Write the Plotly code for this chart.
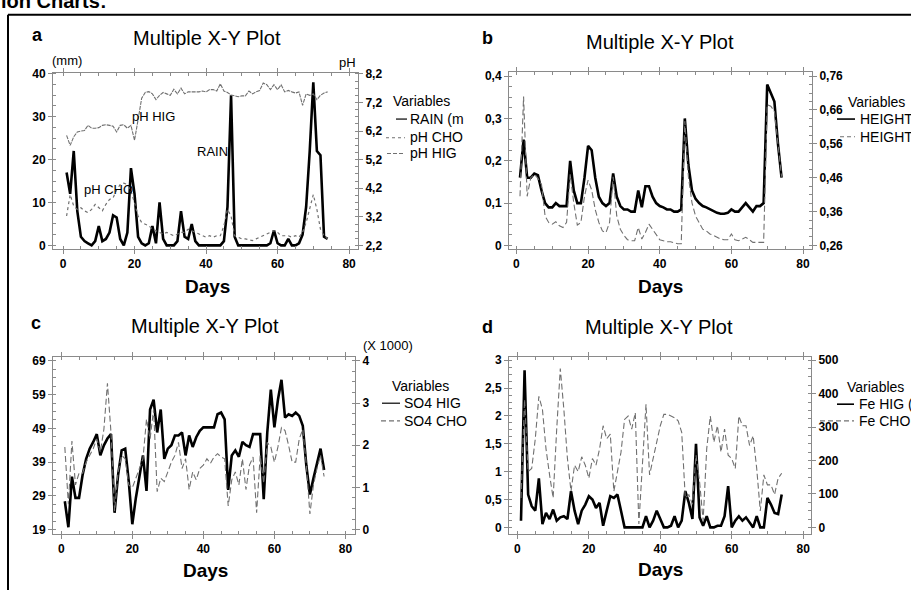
import plotly.graph_objects as go

# ---------------- data ----------------
days = list(range(1, 75))

rain_mm = [17, 12, 22, 8, 2, 1, 0.5, 0, 1, 4.5,
           1, 1.5, 3, 7, 6.5, 1.5, 0, 3, 18, 12,
           2, 0.5, 0, 0.5, 4.5, 0.5, 10, 1.5, 0, 0,
           0, 1, 8, 2, 1.5, 5, 1, 0, 0, 0,
           0, 0, 0, 0, 1, 9, 35, 2, 0, 0,
           0, 0, 0, 0, 0, 0, 0, 0.5, 3.5, 0.5,
           0, 0, 1.5, 0, 0, 0.5, 2.5, 9, 22, 38,
           22, 21, 2, 1.5]

ph_cho = [3.23, 3.98, 3.58, 3.46, 3.52, 3.41, 3.35, 3.46, 3.64, 3.52,
          3.41, 3.64, 3.81, 3.87, 4.15, 4.33, 4.38, 4.33, 4.10, 3.69,
          3.23, 3.00, 2.95, 2.89, 2.77, 2.72, 2.66, 2.60, 2.66, 2.60,
          2.54, 2.60, 2.66, 2.66, 2.77, 2.72, 2.66, 2.60, 2.54, 2.49,
          2.54, 2.49, 2.54, 2.54, 2.89, 3.46, 3.23, 2.54, 2.49, 2.43,
          2.43, 2.41, 2.37, 2.43, 2.49, 2.54, 2.60, 2.66, 2.72, 2.66,
          2.54, 2.54, 2.54, 2.49, 2.54, 2.49, 2.66, 3.00, 3.46, 3.98,
          3.46, 2.77, 2.54, 2.43]

ph_hig = [6.05, 5.70, 6.00, 6.17, 6.20, 6.22, 6.40, 6.30, 6.30, 6.32,
          6.40, 6.42, 6.40, 6.37, 6.17, 6.40, 6.42, 6.30, 6.40, 5.88,
          6.60, 7.35, 7.55, 7.58, 7.50, 7.30, 7.45, 7.55, 7.50, 7.45,
          7.66, 7.50, 7.70, 7.50, 7.57, 7.57, 7.56, 7.57, 7.60, 7.57,
          7.65, 7.65, 7.60, 7.85, 7.60, 7.55, 7.46, 7.43, 7.40, 7.43,
          7.43, 7.60, 7.50, 7.57, 7.62, 7.88, 7.82, 7.65, 7.82, 7.65,
          7.82, 7.57, 7.62, 7.57, 7.53, 7.57, 7.10, 7.50, 7.45, 7.50,
          7.30, 7.45, 7.53, 7.57]

height_hig = [0.16, 0.25, 0.16, 0.16, 0.17, 0.166, 0.13, 0.10, 0.09, 0.09,
              0.10, 0.093, 0.093, 0.093, 0.20, 0.13, 0.10, 0.10, 0.16, 0.235,
              0.225, 0.16, 0.115, 0.10, 0.093, 0.10, 0.17, 0.115, 0.093, 0.085,
              0.085, 0.08, 0.08, 0.13, 0.09, 0.14, 0.14, 0.115, 0.10, 0.093,
              0.09, 0.085, 0.085, 0.08, 0.08, 0.085, 0.30, 0.19, 0.13, 0.11,
              0.10, 0.093, 0.09, 0.085, 0.08, 0.077, 0.075, 0.075, 0.077, 0.085,
              0.08, 0.08, 0.09, 0.10, 0.09, 0.08, 0.093, 0.093, 0.10, 0.38,
              0.36, 0.34, 0.24, 0.16]

height_cho = [0.405, 0.70, 0.405, 0.46, 0.47, 0.458, 0.44, 0.347, 0.328, 0.323,
              0.33, 0.318, 0.313, 0.328, 0.47, 0.386, 0.32, 0.328, 0.405, 0.453,
              0.424, 0.366, 0.328, 0.303, 0.298, 0.328, 0.463, 0.347, 0.308, 0.29,
              0.277, 0.274, 0.274, 0.313, 0.279, 0.298, 0.323, 0.308, 0.29, 0.277,
              0.274, 0.271, 0.271, 0.267, 0.265, 0.265, 0.627, 0.463, 0.386, 0.347,
              0.328, 0.308, 0.303, 0.294, 0.29, 0.284, 0.279, 0.277, 0.277, 0.294,
              0.277, 0.274, 0.279, 0.284, 0.277, 0.269, 0.269, 0.269, 0.269, 0.676,
              0.671, 0.657, 0.55, 0.463]

so4_hig = [27.4, 19.7, 34.7, 28.4, 28.4, 35.2, 40.0, 43.0, 45.0, 47.3,
           41.0, 44.0, 46.0, 47.3, 24.0, 35.2, 42.5, 43.0, 33.3, 20.6,
           28.4, 35.2, 41.0, 30.5, 54.6, 57.5, 47.8, 54.6, 40.0, 43.0,
           44.0, 46.9, 46.9, 47.8, 41.0, 46.9, 43.5, 46.4, 48.3, 49.3,
           49.3, 49.3, 49.3, 53.2, 53.7, 51.7, 30.8, 41.0, 42.5, 40.6,
           45.0, 44.0, 43.5, 47.3, 47.3, 47.3, 28.0, 47.8, 60.5, 49.3,
           57.5, 63.4, 52.2, 53.2, 52.7, 53.7, 52.7, 49.8, 38.0, 29.4,
           34.2, 39.0, 43.0, 36.7]

so4_cho = [1.96, 0.60, 2.10, 1.06, 1.34, 1.34, 1.60, 1.76, 1.92, 2.15,
           1.84, 2.38, 3.47, 2.30, 0.44, 1.37, 1.76, 1.68, 1.06, 0.99,
           1.22, 1.45, 1.68, 2.62, 2.15, 2.85, 0.90, 1.22, 1.14, 1.37,
           1.60, 1.76, 2.07, 1.45, 1.68, 0.95, 1.37, 1.18, 1.45, 1.53,
           1.68, 1.57, 1.72, 1.80, 1.72, 1.68, 0.56, 1.18, 1.37, 1.06,
           1.68, 0.95, 1.53, 1.72, 0.40, 1.76, 1.10, 2.07, 1.96, 1.60,
           1.96, 2.42, 2.35, 2.00, 1.60, 1.60, 2.15, 2.38, 1.53, 0.37,
           1.06, 1.45, 1.76, 1.26]

fe_hig = [0.12, 2.82, 0.59, 0.38, 0.30, 0.88, 0.06, 0.26, 0.15, 0.32,
          0.12, 0.18, 0.20, 0.15, 0.65, 0.30, 0.06, 0.30, 0.41, 0.56,
          0.50, 0.35, 0.44, 0.03, 0.30, 0.56, 0.53, 0.59, 0.30, 0.0,
          0.0, 0.0, 0.0, 0.0, 0.0, 0.20, 0.0, 0.12, 0.30, 0.15,
          0.0, 0.0, 0.03, 0.20, 0.0, 0.12, 0.65, 0.44, 0.15, 1.50,
          0.18, 0.03, 0.20, 0.0, 0.0, 0.03, 0.03, 0.20, 0.74, 0.0,
          0.12, 0.20, 0.12, 0.18, 0.09, 0.0, 0.20, 0.0, 0.0, 0.53,
          0.41, 0.26, 0.24, 0.59]

fe_cho = [88, 382, 167, 176, 265, 392, 353, 235, 157, 88,
          294, 475, 353, 206, 108, 186, 167, 211, 186, 147,
          206, 186, 235, 304, 265, 279, 108, 167, 225, 323,
          333, 294, 343, 10, 206, 368, 157, 206, 265, 304,
          338, 338, 333, 328, 319, 284, 88, 98, 69, 216,
          137, 20, 235, 333, 255, 304, 225, 294, 216, 206,
          176, 333, 304, 304, 245, 274, 176, 49, 157, 127,
          127, 98, 147, 162]

x_ticks = [0, 20, 40, 60, 80]
a_left_ticks = [0, 10, 20, 30, 40]
a_right_ticks = [2.2, 3.2, 4.2, 5.2, 6.2, 7.2, 8.2]
a_right_text = ["2,2", "3,2", "4,2", "5,2", "6,2", "7,2", "8,2"]
b_left_ticks = [0, 0.1, 0.2, 0.3, 0.4]
b_left_text = ["0", "0,1", "0,2", "0,3", "0,4"]
b_right_ticks = [0.26, 0.36, 0.46, 0.56, 0.66, 0.76]
b_right_text = ["0,26", "0,36", "0,46", "0,56", "0,66", "0,76"]
c_left_ticks = [19, 29, 39, 49, 59, 69]
c_right_ticks = [0, 1, 2, 3, 4]
d_left_ticks = [0, 0.5, 1, 1.5, 2, 2.5, 3]
d_left_text = ["0", "0,5", "1", "1,5", "2", "2,5", "3"]
d_right_ticks = [0, 100, 200, 300, 400, 500]

# ---------------- layout helpers ----------------
W, H = 911, 594
FONT = "Liberation Sans"
FRAME = "#8a8a8a"
GRAY = "#707070"


def px(x):
    return x / W


def py(y):
    return 1 - y / H


TICKF = dict(family=FONT, size=12, color="black", weight="bold")


def xaxis(x0, x1, y0, y1, anchor, rng):
    return dict(domain=[px(x0), px(x1)], anchor=anchor, range=rng,
                showline=True, linecolor=FRAME, linewidth=1, mirror="ticks",
                ticks="outside", ticklen=4, tickcolor=FRAME,
                tickmode="array", tickvals=x_ticks, ticktext=[str(v) for v in x_ticks],
                tickfont=TICKF, showgrid=False, zeroline=False,
                minor=dict(ticks="inside", ticklen=3, tick0=0, dtick=5, tickcolor=FRAME, showgrid=False))


def yaxis(y0, y1, anchor, rng, vals, text, mdt, side="left", overlay=None):
    d = dict(domain=[py(y1), py(y0)], anchor=anchor, range=rng,
             showline=True, linecolor=FRAME, linewidth=1, side=side,
             ticks="outside", ticklen=4, tickcolor=FRAME,
             tickmode="array", tickvals=vals, ticktext=text,
             tickfont=TICKF, showgrid=False, zeroline=False,
             minor=dict(ticks="inside", ticklen=3, tick0=vals[0], dtick=mdt, tickcolor=FRAME, showgrid=False))
    if overlay:
        d["overlaying"] = overlay
        d.pop("domain")
    return d


fig = go.Figure()

BLACK_LINE = dict(color="black", width=2.6)

# panel a
fig.add_trace(go.Scatter(x=days, y=rain_mm, mode="lines", line=BLACK_LINE, xaxis="x", yaxis="y"))
fig.add_trace(go.Scatter(x=days, y=ph_cho, mode="lines", line=dict(color=GRAY, width=1.2, dash="dot"), xaxis="x", yaxis="y2"))
fig.add_trace(go.Scatter(x=days, y=ph_hig, mode="lines", line=dict(color=GRAY, width=1.1, dash="4px,1px"), xaxis="x", yaxis="y2"))
# panel b
fig.add_trace(go.Scatter(x=days, y=height_hig, mode="lines", line=BLACK_LINE, xaxis="x2", yaxis="y3"))
fig.add_trace(go.Scatter(x=days, y=height_cho, mode="lines", line=dict(color=GRAY, width=1.1, dash="6px,3px"), xaxis="x2", yaxis="y4"))
# panel c
fig.add_trace(go.Scatter(x=days, y=so4_hig, mode="lines", line=BLACK_LINE, xaxis="x3", yaxis="y5"))
fig.add_trace(go.Scatter(x=days, y=so4_cho, mode="lines", line=dict(color=GRAY, width=1.1, dash="6px,3px"), xaxis="x3", yaxis="y6"))
# panel d
fig.add_trace(go.Scatter(x=days, y=fe_hig, mode="lines", line=BLACK_LINE, xaxis="x4", yaxis="y7"))
fig.add_trace(go.Scatter(x=days, y=fe_cho, mode="lines", line=dict(color=GRAY, width=1.1, dash="6px,3px"), xaxis="x4", yaxis="y8"))

layout = dict(
    width=W, height=H, margin=dict(l=0, r=0, t=0, b=0),
    paper_bgcolor="white", plot_bgcolor="white", showlegend=False,
    font=dict(family=FONT, color="black"),
    xaxis=xaxis(53, 358, 68, 247, "y", [-2.8, 82.5]),
    yaxis=yaxis(68, 247, "x", [-0.8, 40.2], a_left_ticks, [str(v) for v in a_left_ticks], 2.5),
    yaxis2=yaxis(68, 247, "x", [2.083, 8.235], a_right_ticks, a_right_text, 0.25, side="right", overlay="y"),
    xaxis2=xaxis(509, 812, 67, 247, "y3", [-2.07, 82.5]),
    yaxis3=yaxis(67, 247, "x2", [-0.008, 0.41], b_left_ticks, b_left_text, 0.025),
    yaxis4=yaxis(67, 247, "x2", [0.250, 0.7725], b_right_ticks, b_right_text, 0.025, side="right", overlay="y3"),
    xaxis3=xaxis(53, 355, 357, 537, "y5", [-2.33, 82.7]),
    yaxis5=yaxis(357, 537, "x3", [17.72, 70.17], c_left_ticks, [str(v) for v in c_left_ticks], 2.5),
    yaxis6=yaxis(357, 537, "x3", [-0.1025, 4.093], c_right_ticks, [str(v) for v in c_right_ticks], 0.25, side="right", overlay="y5"),
    xaxis4=xaxis(509, 811, 357, 537, "y7", [-2.36, 82.2]),
    yaxis7=yaxis(357, 537, "x4", [-0.118, 3.058], d_left_ticks, d_left_text, 0.125),
    yaxis8=yaxis(357, 537, "x4", [-19.7, 509.7], d_right_ticks, [str(v) for v in d_right_ticks], 25, side="right", overlay="y7"),
)
fig.update_layout(**layout)

anns = []


def ann(text, x, y, size, bold=False, xanchor="center", yanchor="middle", color="black"):
    anns.append(dict(text=text, x=px(x), y=py(y), xref="paper", yref="paper",
                     xanchor=xanchor, yanchor=yanchor, showarrow=False,
                     font=dict(family=FONT, size=size, color=color, weight="bold" if bold else "normal")))


ann("ion Charts:", -1, 8, 20, bold=True, xanchor="left", yanchor="bottom")
# titles
TS = 20
ann("Multiple X-Y Plot", 207, 33, TS)
ann("Multiple X-Y Plot", 660, 37, TS)
ann("Multiple X-Y Plot", 205, 325, TS)
ann("Multiple X-Y Plot", 659, 327, TS)
# letters
ann("a", 37, 30, 18, bold=True)
ann("b", 488, 33, 18, bold=True)
ann("c", 36, 322, 18, bold=True)
ann("d", 488, 326, 18, bold=True)
# axis titles
for (x, y) in [(207, 285), (660, 285), (205, 574), (660, 573)]:
    ann("Days", x, y, 19, bold=True)
ann("(mm)", 50, 55, 13, xanchor="left")
ann("pH", 337, 57, 13, xanchor="left")
ann("(X 1000)", 361, 345, 13, xanchor="left")
# in-plot labels (panel a)
ann("pH HIG", 130, 112, 13, xanchor="left")
ann("RAIN", 230, 148, 13, xanchor="right")
ann("pH CHO", 82, 187, 13, xanchor="left")
# legends
LEG = 14
ann("Variables", 391, 97, LEG, xanchor="left")
ann("RAIN (m", 408, 115, LEG, xanchor="left")
ann("pH CHO", 408, 133, LEG, xanchor="left")
ann("pH HIG", 408, 150, LEG, xanchor="left")

ann("Variables", 846, 98, LEG, xanchor="left")
ann("HEIGHT HIG", 858, 115, LEG, xanchor="left")
ann("HEIGHT CHO", 858, 133, LEG, xanchor="left")

ann("Variables", 390, 387, LEG, xanchor="left")
ann("SO4 HIG", 402, 404, LEG, xanchor="left")
ann("SO4 CHO", 402, 422, LEG, xanchor="left")

ann("Variables", 845, 388, LEG, xanchor="left")
ann("Fe HIG (mg/l)", 857, 405, LEG, xanchor="left")
ann("Fe CHO (mg/l)", 857, 422, LEG, xanchor="left")

shapes = []


def seg(x0, y0, x1, y1, color="black", width=1, dash="solid"):
    shapes.append(dict(type="line", xref="paper", yref="paper", x0=px(x0), y0=py(y0), x1=px(x1), y1=py(y1),
                       line=dict(color=color, width=width, dash=dash)))


# outer border
seg(8, 9, 911, 9, width=2)
seg(8, 9, 8, 594, width=2)
# legend samples
seg(396, 115, 407, 115, width=1.2)
seg(386, 134, 405, 134, color=GRAY, width=1.2, dash="dot")
seg(387, 150, 405, 150, color=GRAY, width=1.1, dash="4px,2px")
seg(837, 115, 855, 115, width=1.6)
seg(840, 133, 855, 133, color=GRAY, width=1.1, dash="4px,3px")
seg(382, 404, 400, 404, width=1.2)
seg(381, 422, 400, 422, color=GRAY, width=1.1, dash="5px,3px")
seg(837, 405, 854, 405, width=1.6)
seg(820, 422, 854, 422, color=GRAY, width=1.1, dash="5px,3px")

fig.update_layout(annotations=anns, shapes=shapes)
fig.write_html("out.html", config={"displayModeBar": False},
               post_script="document.body.style.margin='0';document.body.style.overflow='hidden';")
